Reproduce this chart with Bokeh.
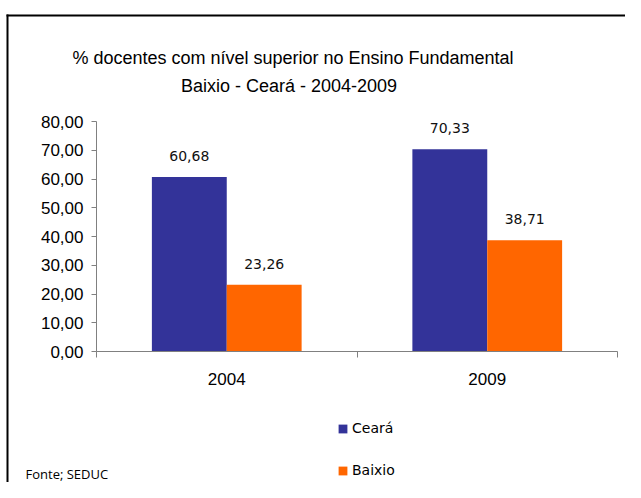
from bokeh.plotting import figure
from bokeh.models import (Range1d, FixedTicker, Label, Legend, LegendItem,
                          BoxAnnotation, ColumnDataSource)
from bokeh.embed import file_html
from bokeh.resources import INLINE
from bokeh.core.properties import value

# ---- data ----
years = ["2004", "2009"]
series_names = ["Ceará", "Baixio"]
ceara = [60.68, 70.33]
baixio = [23.26, 38.71]
y_ticks = [0, 10, 20, 30, 40, 50, 60, 70, 80]
title_lines = ["% docentes com nível  superior no Ensino Fundamental",
               "Baixio  -  Ceará - 2004-2009"]
source_note = "Fonte; SEDUC"
colors = ["#333399", "#FF6600"]

def br(v):
    return f"{v:.2f}".replace(".", ",")

# ---- layout (canvas pixels) ----
W, H = 625, 482
NX = len(years)
YMAX = y_ticks[-1]
X0PX, X1PX = 96, 617     # plot area left / right
Y0PX, Y1PX = 351, 121    # value 0 / value YMAX
sx_ = (X1PX - X0PX) / NX
sy_ = (Y0PX - Y1PX) / YMAX

def cx(px):
    return (px - X0PX) / sx_

def cy(py):
    return (Y0PX - py) / sy_

p = figure(width=W, height=H, output_backend="svg", toolbar_location=None,
           x_range=Range1d(cx(0), cx(W)), y_range=Range1d(cy(H), cy(0)),
           min_border=0)
p.min_border_left = p.min_border_right = p.min_border_top = p.min_border_bottom = 0
p.outline_line_color = None
p.grid.visible = False
p.background_fill_color = "white"
p.border_fill_color = "white"

centers = [i + 0.5 for i in range(NX)]
bw = 0.2874
off = 0.1437
src = ColumnDataSource(dict(
    x1=[c - off for c in centers], x2=[c + off for c in centers],
    ceara=ceara, baixio=baixio,
    lc=[br(v) for v in ceara], lb=[br(v) for v in baixio]))

r1 = p.vbar(x="x1", top="ceara", width=bw, fill_color=colors[0],
            line_color=None, source=src)
r2 = p.vbar(x="x2", top="baixio", width=bw, fill_color=colors[1],
            line_color=None, source=src)

for xcol, lcol, ycol in (("x1", "lc", "ceara"), ("x2", "lb", "baixio")):
    p.text(x=xcol, y=ycol, text=lcol, source=src, text_align="center",
           text_baseline="middle", y_offset=-21,
           text_font=value("DejaVu Sans"), text_font_size="14px",
           text_color="#111111")

axis_gray = "#808080"
xa = p.xaxis[0]
xa.fixed_location = 0
xa.bounds = (0, NX)
xa.ticker = FixedTicker(ticks=centers, minor_ticks=[float(i) for i in range(NX + 1)])
xa.major_label_overrides = {c: y for c, y in zip(centers, years)}
xa.major_tick_out = 0
xa.major_tick_in = 0
xa.minor_tick_out = 6
xa.minor_tick_in = 0
xa.minor_tick_line_color = axis_gray
xa.axis_line_color = axis_gray
xa.major_label_text_font = "Liberation Sans"
xa.major_label_text_font_size = "17px"
xa.major_label_text_color = "#000000"
xa.major_label_standoff = 15

ya = p.yaxis[0]
ya.fixed_location = 0
ya.bounds = (0, YMAX)
ya.ticker = FixedTicker(ticks=y_ticks, minor_ticks=[])
ya.major_label_overrides = {v: br(v) for v in y_ticks}
ya.major_tick_out = 5
ya.major_tick_in = 0
ya.major_tick_line_color = axis_gray
ya.axis_line_color = axis_gray
ya.major_label_text_font = "Liberation Sans"
ya.major_label_text_font_size = "17px"
ya.major_label_text_color = "#000000"
ya.major_label_standoff = 8

# titles
for txt, (px, py) in zip(title_lines, [(295, 57), (293.5, 85)]):
    p.add_layout(Label(x=cx(px), y=cy(py), text=txt, text_align="center",
                       text_baseline="middle", text_font="Liberation Sans",
                       text_font_size="18px", text_color="#000000"))

p.add_layout(Label(x=cx(25), y=cy(473), text=source_note, text_align="left",
                   text_baseline="middle", text_font="Open Sans",
                   text_font_size="13px", text_color="#000000"))

# frame lines (top and left)
p.add_layout(BoxAnnotation(left=cx(6), right=cx(W), top=cy(14), bottom=cy(16),
                           fill_color="black", fill_alpha=1, line_color=None))
p.add_layout(BoxAnnotation(left=cx(6), right=cx(8), top=cy(14), bottom=cy(H),
                           fill_color="black", fill_alpha=1, line_color=None))

legend = Legend(items=[LegendItem(label=series_names[0], renderers=[r1]),
                       LegendItem(label=series_names[1], renderers=[r2])],
                location=(337, H - 478), orientation="vertical",
                glyph_width=11, glyph_height=11, label_height=11,
                spacing=26, padding=0, margin=0, label_standoff=4,
                border_line_color=None, background_fill_alpha=0,
                label_text_font="DejaVu Sans", label_text_font_size="14px",
                label_text_color="#000000")
p.add_layout(legend)

open("out.html", "w").write(file_html(p, INLINE))
